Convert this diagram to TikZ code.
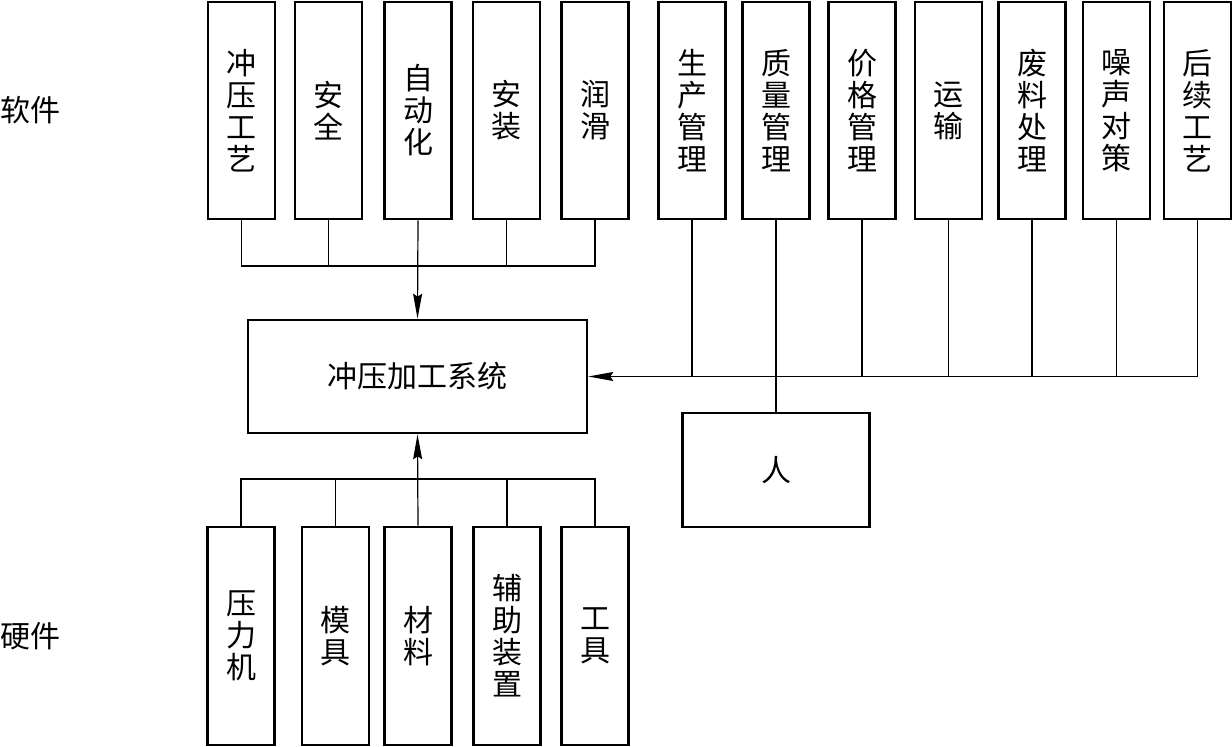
\documentclass[tikz,border=0pt]{standalone}
\usepackage{fontspec}
\newfontfamily\cjk{Noto Sans CJK SC}
\usetikzlibrary{arrows.meta}
\begin{document}
\begin{tikzpicture}[x=1pt,y=-1pt,
  box/.style={draw,line width=2.6pt,inner sep=0pt,align=center,
    font=\cjk\fontsize{30}{32}\selectfont},
  vbox/.style={box,minimum width=67pt,minimum height=217pt},
  conn/.style={line width=1.2pt},
  arr/.style={conn,-{Stealth[length=25pt,width=9pt,inset=3pt]}},
  lab/.style={font=\cjk\fontsize{30}{32}\selectfont,inner sep=0pt}]
\useasboundingbox (0,0) rectangle (1232,747);
% top-left software boxes
\node[vbox] (a1) at (241.5,110.5) {冲\\压\\工\\艺};
\node[vbox] (a2) at (328.5,110.5) {安\\全};
\node[vbox] (a3) at (418,110.5) {自\\动\\化};
\node[vbox] (a4) at (506.5,110.5) {安\\装};
\node[vbox] (a5) at (595,110.5) {润\\滑};
% top-right boxes
\node[vbox] (b1) at (692,110.5) {生\\产\\管\\理};
\node[vbox] (b2) at (776,110.5) {质\\量\\管\\理};
\node[vbox] (b3) at (862,110.5) {价\\格\\管\\理};
\node[vbox] (b4) at (948.5,110.5) {运\\输};
\node[vbox] (b5) at (1032,110.5) {废\\料\\处\\理};
\node[vbox] (b6) at (1116.5,110.5) {噪\\声\\对\\策};
\node[vbox] (b7) at (1197.5,110.5) {后\\续\\工\\艺};
% main system box
\node[box,minimum width=339pt,minimum height=113pt] (sys) at (417.5,376.5) {冲压加工系统};
% person box
\node[box,minimum width=187pt,minimum height=114pt] (ren) at (776,470) {人};
% bottom hardware boxes
\node[vbox,minimum height=218pt] (c1) at (241,636) {压\\力\\机};
\node[vbox,minimum height=218pt] (c2) at (335.5,636) {模\\具};
\node[vbox,minimum height=218pt] (c3) at (418,636) {材\\料};
\node[vbox,minimum height=218pt] (c4) at (507,636) {辅\\助\\装\\置};
\node[vbox,minimum height=218pt] (c5) at (595,636) {工\\具};
% side labels
\node[lab] (soft) at (31,110) {软件};
\node[lab] (hard) at (31,636) {硬件};
% top-left bus
\coordinate (tb) at (418,266);
\draw[conn] (a1.south) |- (tb) -| (a5.south);
\draw[conn] (a2.south) -- (a2.south |- tb);
\draw[conn] (a4.south) -- (a4.south |- tb);
\draw[arr] (a3.south) -- (sys.north);
% right bus
\draw[arr] (b7.south) |- (sys.east);
\draw[conn] (b1.south) -- (b1.south |- sys.east);
\draw[conn] (b3.south) -- (b3.south |- sys.east);
\draw[conn] (b4.south) -- (b4.south |- sys.east);
\draw[conn] (b5.south) -- (b5.south |- sys.east);
\draw[conn] (b6.south) -- (b6.south |- sys.east);
\draw[conn] (b2.south) -- (ren.north);
% bottom bus
\coordinate (bb) at (418,479);
\draw[conn] (c1.north) |- (bb) -| (c5.north);
\draw[conn] (c2.north) -- (c2.north |- bb);
\draw[conn] (c4.north) -- (c4.north |- bb);
\draw[arr] (c3.north) -- (sys.south);
\end{tikzpicture}
\end{document}
